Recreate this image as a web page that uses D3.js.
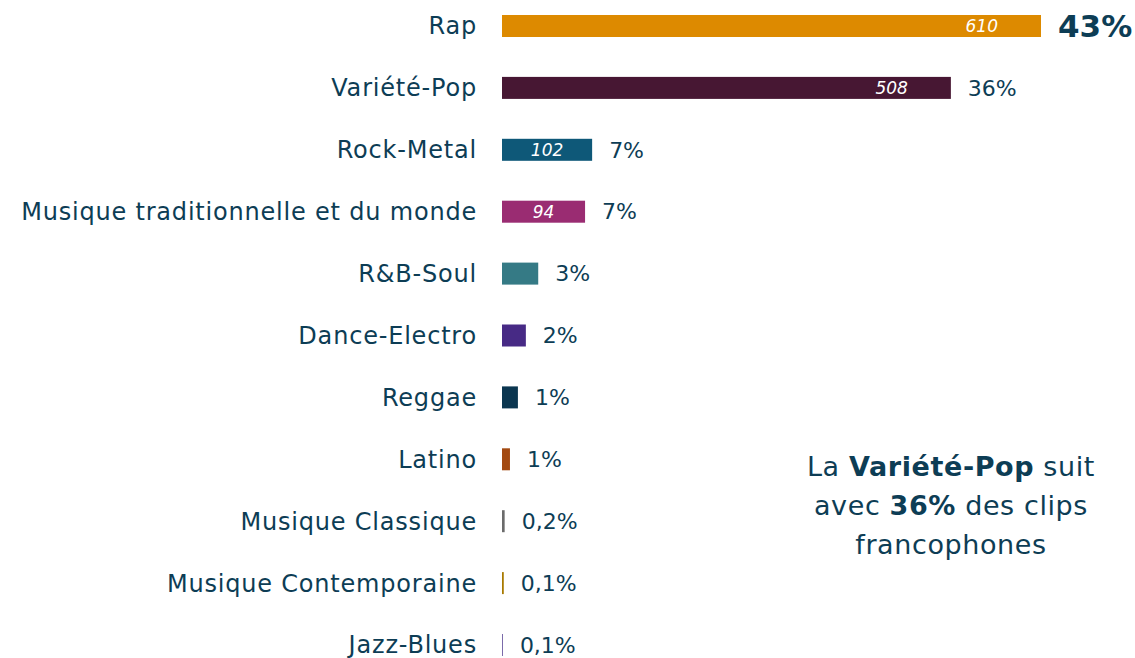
<!DOCTYPE html>
<html><head><meta charset="utf-8">
<script src="https://cdn.jsdelivr.net/npm/d3@7"></script>
<style>
html,body{margin:0;padding:0;background:#fff;}
svg{display:block;font-family:"DejaVu Sans",sans-serif;}
</style></head>
<body><svg id="c" width="1135" height="658"></svg>
<script>
const categories = ["Rap","Variété-Pop","Rock-Metal","Musique traditionnelle et du monde","R&B-Soul","Dance-Electro","Reggae","Latino","Musique Classique","Musique Contemporaine","Jazz-Blues"];
const values = [610,508,102,94,41,27,18,9,3,2,1];
const percentLabels = ["43%","36%","7%","7%","3%","2%","1%","1%","0,2%","0,1%","0,1%"];
const countLabels = ["610","508","102","94","","","","","","",""];
const colors = ["#DD8A00","#471733","#0E5878","#9A2C72","#357A85","#472A85","#0B3650","#A34A12","#6B6B6B","#A87A00","#7B6BAA"];

const textColor = "#0D3D55";
const svg = d3.select("#c");
const x = d3.scaleLinear().domain([0, 610]).range([502, 1041]);
const y = d3.scalePoint().domain(categories).range([26, 645]);
const bh = 22;

const rows = svg.selectAll("g.row").data(categories).join("g").attr("class","row");

rows.append("text")
  .attr("x", 477).attr("y", d => y(d)).attr("dy","0.35em")
  .attr("text-anchor","end").attr("font-size", 24).attr("letter-spacing", 0.8).attr("fill", textColor)
  .text(d => d);

rows.append("rect")
  .attr("x", x(0)).attr("y", d => y(d) - bh/2)
  .attr("width", (d,i) => Math.max(1, x(values[i]) - x(0))).attr("height", bh)
  .attr("fill", (d,i) => colors[i]);

rows.append("text")
  .attr("x", (d,i) => { const w = x(values[i]) - x(0); return w > 200 ? x(values[i]) - 43 : (x(0) + x(values[i]))/2; })
  .attr("y", d => y(d)).attr("dy","0.35em")
  .attr("text-anchor", (d,i) => (x(values[i]) - x(0)) > 200 ? "end" : "middle")
  .attr("font-size", 17).attr("font-style","italic").attr("fill","#fff")
  .text((d,i) => countLabels[i]);

rows.append("text")
  .attr("x", (d,i) => x(values[i]) + 17)
  .attr("y", d => y(d)).attr("dy","0.35em")
  .attr("font-size", (d,i) => i === 0 ? 31 : 22)
  .attr("font-weight", (d,i) => i === 0 ? "bold" : "normal")
  .attr("fill", textColor)
  .text((d,i) => percentLabels[i]);

const ann = svg.append("text").attr("text-anchor","middle").attr("font-size", 27).attr("letter-spacing", 0.6).attr("fill", textColor);
const l1 = ann.append("tspan").attr("x", 951).attr("y", 476);
l1.append("tspan").text("La ");
l1.append("tspan").attr("font-weight","bold").text("Variété-Pop");
l1.append("tspan").text(" suit");
const l2 = ann.append("tspan").attr("x", 951).attr("y", 515);
l2.append("tspan").text("avec ");
l2.append("tspan").attr("font-weight","bold").text("36%");
l2.append("tspan").text(" des clips");
ann.append("tspan").attr("x", 951).attr("y", 554).text("francophones");
</script></body></html>
